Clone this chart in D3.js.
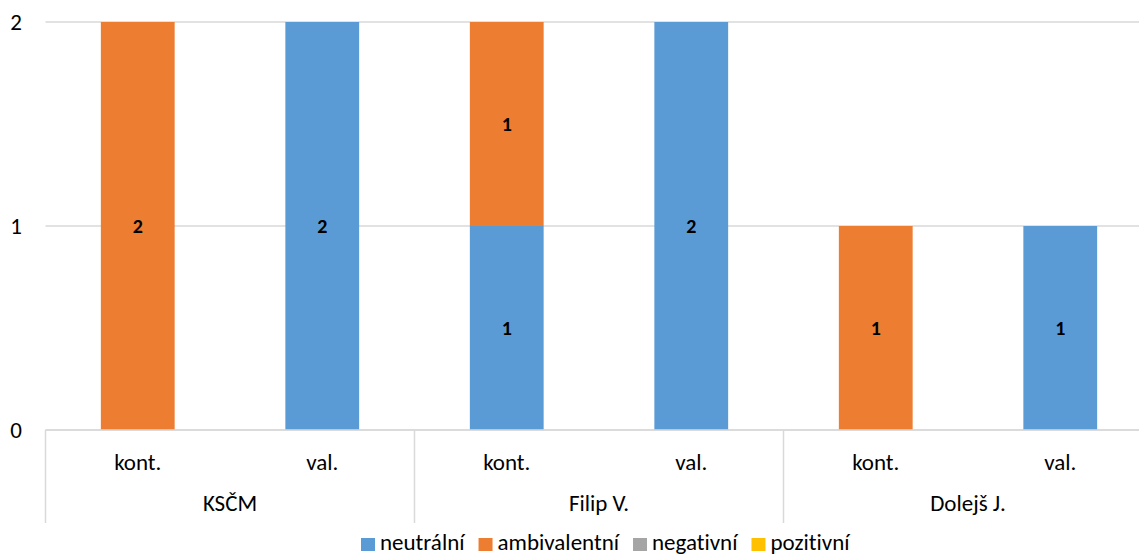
<!DOCTYPE html>
<html>
<head>
<meta charset="utf-8">
<script src="https://cdn.jsdelivr.net/npm/d3@7"></script>
<style>
  body { margin: 0; background: #fff; overflow: hidden; }
  text { font-family: Carlito, "Open Sans", sans-serif; fill: #000; font-variant-ligatures: none; }
</style>
</head>
<body>
<div id="chart"></div>
<script>
var groups = ["KSČM", "Filip V.", "Dolejš J."];
var subLabels = ["kont.", "val."];
var seriesNames = ["neutrální", "ambivalentní", "negativní", "pozitivní"];
var seriesColors = ["#5b9bd5", "#ed7d31", "#a5a5a5", "#ffc000"];
// one value per bar (KSČM kont., KSČM val., Filip kont., Filip val., Dolejš kont., Dolejš val.)
var neutralni = [0, 2, 1, 2, 0, 1];
var ambivalentni = [2, 0, 1, 0, 1, 0];
var negativni = [0, 0, 0, 0, 0, 0];
var pozitivni = [0, 0, 0, 0, 0, 0];
var yTicks = [0, 1, 2];

var W = 1139, H = 556;
var plotLeft = 45.5, slot = 184.5, plotTop = 22, plotBottom = 430;
var plotRight = plotLeft + slot * 6;
var fs = "23px";

var bars = [];
groups.forEach(function (g, gi) {
  subLabels.forEach(function (s, si) {
    bars.push({ key: gi + "_" + si, group: g, label: s });
  });
});
var values = [neutralni, ambivalentni, negativni, pozitivni];

var svg = d3.select("#chart").append("svg")
  .attr("width", W).attr("height", H);

var x = d3.scaleBand().domain(bars.map(function (d) { return d.key; }))
  .range([plotLeft, plotRight]).paddingInner(0.6).paddingOuter(0.3);
var y = d3.scaleLinear().domain([0, 2]).range([plotBottom, plotTop]);

// gridlines
svg.append("g").selectAll("line").data(yTicks).enter().append("line")
  .attr("x1", plotLeft).attr("x2", plotRight)
  .attr("y1", function (d) { return y(d); })
  .attr("y2", function (d) { return y(d); })
  .attr("stroke", "#d9d9d9").attr("stroke-width", 1.5);

// y labels
svg.append("g").selectAll("text").data(yTicks).enter().append("text")
  .attr("x", 16).attr("y", function (d) { return y(d) + 8; })
  .attr("text-anchor", "middle").style("font-size", fs)
  .text(function (d) { return d; });

// stacked bars
var stackData = bars.map(function (b, i) {
  var o = { key: b.key };
  seriesNames.forEach(function (n, si) { o[n] = values[si][i]; });
  return o;
});
var stacked = d3.stack().keys(seriesNames)(stackData);

stacked.forEach(function (layer, si) {
  var g = svg.append("g");
  g.selectAll("rect").data(layer).enter().append("rect")
    .attr("x", function (d) { return x(d.data.key); })
    .attr("width", x.bandwidth())
    .attr("y", function (d) { return y(d[1]); })
    .attr("height", function (d) { return y(d[0]) - y(d[1]); })
    .attr("fill", seriesColors[si]);
  g.selectAll("text").data(layer.filter(function (d) { return d[1] - d[0] > 0; }))
    .enter().append("text")
    .attr("x", function (d) { return x(d.data.key) + x.bandwidth() / 2; })
    .attr("y", function (d) { return (y(d[0]) + y(d[1])) / 2 + 7; })
    .attr("text-anchor", "middle")
    .style("font-size", "20px").style("font-weight", "bold")
    .text(function (d) { return d[1] - d[0]; });
});

// category axis lines
var sepBottom = 523;
var ax = svg.append("g").attr("stroke", "#d9d9d9").attr("stroke-width", 1.5);
ax.append("line").attr("x1", plotLeft).attr("x2", plotRight)
  .attr("y1", plotBottom).attr("y2", plotBottom);
[0, 2, 4, 6].forEach(function (k) {
  ax.append("line")
    .attr("x1", plotLeft + k * slot).attr("x2", plotLeft + k * slot)
    .attr("y1", plotBottom).attr("y2", sepBottom);
});

// sub labels
svg.append("g").selectAll("text").data(bars).enter().append("text")
  .attr("x", function (d) { return x(d.key) + x.bandwidth() / 2; })
  .attr("y", 470).attr("text-anchor", "middle").style("font-size", fs)
  .text(function (d) { return d.label; });

// group labels
svg.append("g").selectAll("text").data(groups).enter().append("text")
  .attr("x", function (d, i) { return plotLeft + (i * 2 + 1) * slot; })
  .attr("y", 511).attr("text-anchor", "middle").style("font-size", fs)
  .text(function (d) { return d; });

// legend
var legend = svg.append("g");
var lx = 361;
seriesNames.forEach(function (n, i) {
  legend.append("rect").attr("x", lx).attr("y", 538).attr("width", 14).attr("height", 13)
    .attr("fill", seriesColors[i]);
  var t = legend.append("text").attr("x", lx + 19).attr("y", 550)
    .style("font-size", fs).text(n);
  lx += 19 + t.node().getComputedTextLength() + 14;
});
</script>
</body>
</html>
